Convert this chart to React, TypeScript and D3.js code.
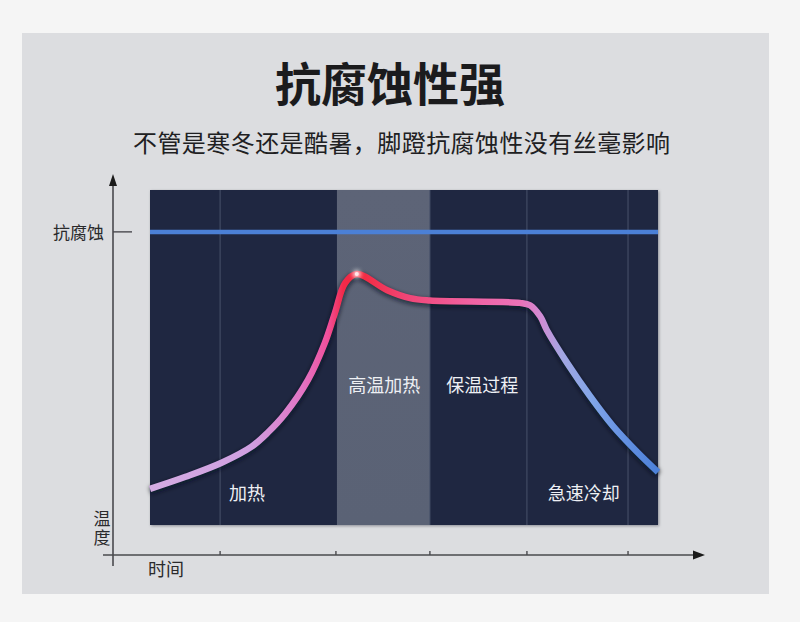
import React, { useEffect } from "react";
import * as d3 from "d3";

// Curve data: time (0-100) vs temperature (0-100)
const curveTime = [0, 7.0, 14.1, 20.0, 23.2, 26.6, 31.1, 34.4, 36.4, 38.4, 40.7, 46.7, 51.2, 55.1, 72.8, 74.8, 76.8, 78.1, 82.1, 86.6, 91.1, 95.9, 100];
const curveTemp = [10.8, 14.4, 18.6, 23.4, 27.6, 33.2, 43.3, 54.3, 63.3, 72.2, 74.9, 70.1, 67.7, 67.0, 66.3, 65.6, 62.3, 58.2, 48.4, 38.5, 29.6, 21.8, 15.8];

const corrosionLevel = 87.5;
const yTickLabels = ["抗腐蚀"];
const bandRange = [36.8, 55.1];
const gridTimes = [13.8, 55.1, 74.2, 94.1];
const tickTimes = [13.8, 36.6, 55.1, 74.2, 94.1];
const phaseNames = ["加热", "高温加热", "保温过程", "急速冷却"];
const phaseTime = [19.1, 46.1, 65.4, 85.4];
const phaseTemp = [9.9, 42.1, 42.1, 9.9];

const title = "抗腐蚀性强";
const subtitle = "不管是寒冬还是酷暑，脚蹬抗腐蚀性没有丝毫影响";
const yAxisTitle = ["温", "度"];
const xAxisTitle = "时间";

const gradStops: [number, string][] = [
  [0, "#d4ace2"],
  [0.2, "#cf9fe0"],
  [0.3, "#e274c4"],
  [0.35, "#f0509c"],
  [0.38, "#f22a4a"],
  [0.41, "#f2283c"],
  [0.5, "#f04474"],
  [0.63, "#f062a2"],
  [0.73, "#ea72b8"],
  [0.77, "#d08cd4"],
  [0.81, "#a4a6e2"],
  [0.87, "#82a6e8"],
  [0.93, "#6592e2"],
  [1, "#4c80d8"],
];

const FONT = "'Noto Sans CJK SC', 'Noto Sans', sans-serif";

export default function App() {
  useEffect(() => {
    document.body.style.margin = "0";
  }, []);

  const W = 800, H = 622;
  const px0 = 150, px1 = 658, py0 = 190, py1 = 525;
  const x = d3.scaleLinear().domain([0, 100]).range([px0, px1]);
  const y = d3.scaleLinear().domain([0, 100]).range([py1, py0]);

  const pts: [number, number][] = curveTime.map((t, i) => [t, curveTemp[i]]);
  const line = d3
    .line<[number, number]>()
    .x((d) => x(d[0]))
    .y((d) => y(d[1]))
    .curve(d3.curveCatmullRom.alpha(0.5));
  const path = line(pts) || "";

  const peakIdx = curveTemp.indexOf(d3.max(curveTemp) as number);

  const axisColor = "#4a4a4e";
  const xAxisY = 555;
  const yAxisX = 113;

  return (
    <svg width={W} height={H} style={{ position: "absolute", left: 0, top: 0, display: "block" }}>
      <defs>
        <linearGradient id="curveGrad" gradientUnits="userSpaceOnUse" x1={x(0)} x2={x(100)} y1={0} y2={0}>
          {gradStops.map(([o, c], i) => (
            <stop key={i} offset={o} stopColor={c} />
          ))}
        </linearGradient>
        <filter id="shadow" x="-10%" y="-10%" width="120%" height="120%">
          <feGaussianBlur stdDeviation="2" />
        </filter>
        <filter id="glow" x="-200%" y="-200%" width="500%" height="500%">
          <feGaussianBlur stdDeviation="2" />
        </filter>
        <linearGradient id="bandGrad" x1="0" x2="0" y1="0" y2="1">
          <stop offset="0" stopColor="#5d6477" />
          <stop offset="1" stopColor="#5a6275" />
        </linearGradient>
        <filter id="rectShadow" x="-5%" y="-5%" width="110%" height="110%">
          <feGaussianBlur stdDeviation="1.5" />
        </filter>
      </defs>
      <rect x={0} y={0} width={W} height={H} fill="#f5f5f5" />
      <rect x={22} y={33} width={747} height={561} fill="#dcdde0" />

      <text x={390} y={101} textAnchor="middle" fontFamily={FONT} fontSize={46} fontWeight={700} fill="#1b1b1d">
        {title}
      </text>
      <text x={401.5} y={152} textAnchor="middle" fontFamily={FONT} fontSize={24} fill="#202022" textLength={537} lengthAdjust="spacing">
        {subtitle}
      </text>

      {/* plot area */}
      <rect x={px0 + 1} y={py0 + 1} width={px1 - px0} height={py1 - py0} fill="#8a8c94" filter="url(#rectShadow)" />
      <rect x={px0} y={py0} width={px1 - px0} height={py1 - py0} fill="#1f2741" />
      <rect x={x(bandRange[0])} y={py0} width={x(bandRange[1]) - x(bandRange[0])} height={py1 - py0} fill="url(#bandGrad)" />
      {gridTimes.map((t, i) => (
        <line key={i} x1={x(t)} x2={x(t)} y1={py0} y2={py1} stroke="#48526b" strokeWidth={1} />
      ))}
      <line x1={px0} x2={px1} y1={y(corrosionLevel)} y2={y(corrosionLevel)} stroke="#4b80d6" strokeWidth={4.5} />

      {/* curve */}
      <path d={path} fill="none" stroke="#0a0f20" strokeOpacity={0.6} strokeWidth={8} transform="translate(0,2)" filter="url(#shadow)" />
      <path d={path} fill="none" stroke="url(#curveGrad)" strokeWidth={6.5} strokeLinecap="butt" />
      <circle cx={x(curveTime[peakIdx])} cy={y(curveTemp[peakIdx])} r={4} fill="#ffffff" opacity={0.8} filter="url(#glow)" />
      <circle cx={x(curveTime[peakIdx])} cy={y(curveTemp[peakIdx])} r={2} fill="#ffe8ea" />

      {phaseNames.map((n, i) => (
        <text key={i} x={x(phaseTime[i])} y={y(phaseTemp[i])} textAnchor="middle" dominantBaseline="central" fontFamily={FONT} fontSize={18} fill="#eef0f4">
          {n}
        </text>
      ))}

      {/* axes */}
      <line x1={yAxisX} x2={yAxisX} y1={181} y2={566} stroke={axisColor} strokeWidth={1.6} />
      <path d={`M${yAxisX},174 L${yAxisX - 4},186 L${yAxisX + 4},186 Z`} fill="#1a1a1a" />
      <line x1={103} x2={697} y1={xAxisY} y2={xAxisY} stroke={axisColor} strokeWidth={1.6} />
      <path d={`M705,${xAxisY} L693,${xAxisY - 4.5} L693,${xAxisY + 4.5} Z`} fill="#1a1a1a" />
      {tickTimes.map((t, i) => (
        <line key={i} x1={x(t)} x2={x(t)} y1={xAxisY - 4} y2={xAxisY} stroke={axisColor} strokeWidth={1.4} />
      ))}
      <line x1={yAxisX} x2={132} y1={y(corrosionLevel)} y2={y(corrosionLevel)} stroke={axisColor} strokeWidth={1.4} />
      {yTickLabels.map((l, i) => (
        <text key={i} x={104} y={y(corrosionLevel)} textAnchor="end" dominantBaseline="central" fontFamily={FONT} fontSize={17} fill="#2a2a2c">
          {l}
        </text>
      ))}
      <text x={102} y={529} textAnchor="middle" fontFamily={FONT} fontSize={17} letterSpacing={2} fill="#2a2a2c" style={{ writingMode: "vertical-rl" as any }} dominantBaseline="central">
        {yAxisTitle.join("")}
      </text>
      <text x={166} y={568} textAnchor="middle" dominantBaseline="central" fontFamily={FONT} fontSize={18} fill="#2a2a2c">
        {xAxisTitle}
      </text>
    </svg>
  );
}
